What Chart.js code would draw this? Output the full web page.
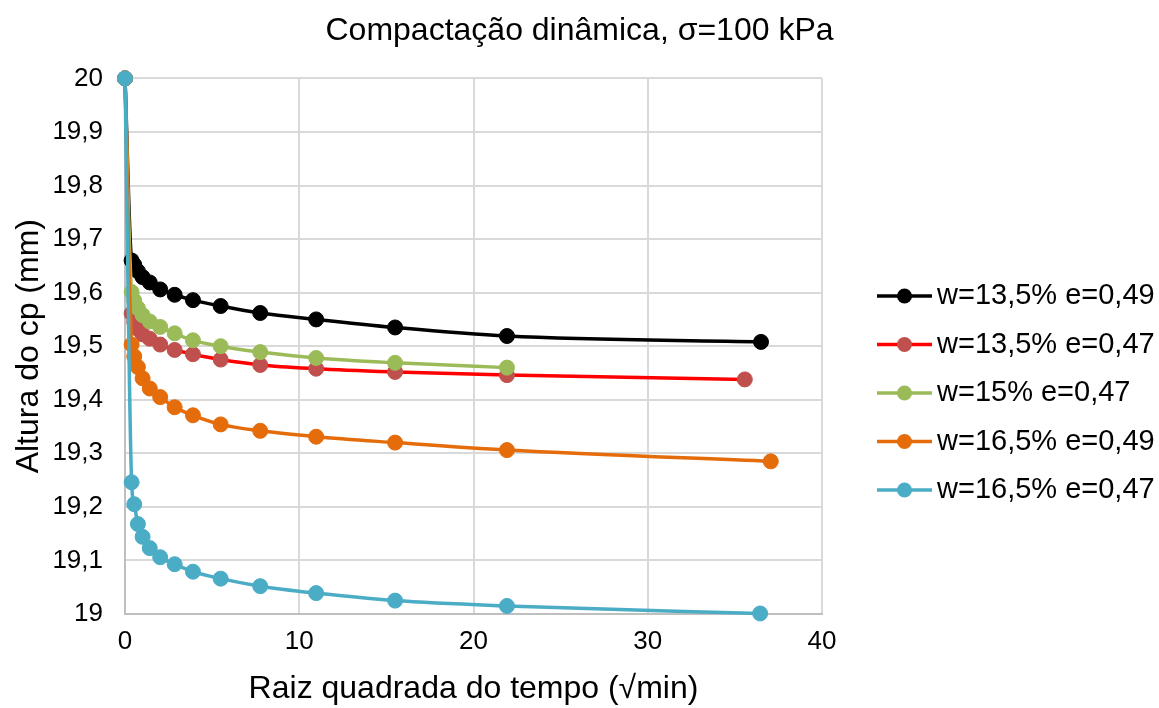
<!DOCTYPE html>
<html>
<head>
<meta charset="utf-8">
<script src="https://cdn.jsdelivr.net/npm/chart.js@4"></script>
<style>
  html, body { margin: 0; padding: 0; background: #fff; }
</style>
</head>
<body>
<canvas id="chart" width="1159" height="708"></canvas>
<script>
// Raiz quadrada do tempo (sqrt min), pontos comuns às séries
const tempoRaiz = [0, 0.38, 0.53, 0.74, 1.01, 1.42, 2.02, 2.85, 3.9, 5.49, 7.76, 10.97, 15.5, 21.92];

// Último ponto de cada série (leitura final)
const tempoFinal = [36.5, 35.57, null, 37.06, 36.45];

// Altura do cp (mm)
const w135e049 = [20, 19.660, 19.652, 19.640, 19.629, 19.619, 19.606, 19.596, 19.586, 19.575, 19.562, 19.550, 19.535, 19.519, 19.508];
const w135e047 = [20, 19.561, 19.545, 19.532, 19.522, 19.514, 19.503, 19.493, 19.485, 19.475, 19.465, 19.458, 19.452, 19.446, 19.438];
const w15e047  = [20, 19.601, 19.585, 19.571, 19.558, 19.546, 19.536, 19.524, 19.511, 19.500, 19.489, 19.478, 19.469, 19.460];
const w165e049 = [20, 19.503, 19.481, 19.461, 19.440, 19.421, 19.405, 19.386, 19.371, 19.354, 19.342, 19.331, 19.320, 19.306, 19.285];
const w165e047 = [20, 19.246, 19.205, 19.168, 19.144, 19.123, 19.106, 19.093, 19.079, 19.066, 19.052, 19.039, 19.025, 19.015, 19.001];

const seriesNames = ['w=13,5% e=0,49', 'w=13,5% e=0,47', 'w=15% e=0,47', 'w=16,5% e=0,49', 'w=16,5% e=0,47'];
const seriesValues = [w135e049, w135e047, w15e047, w165e049, w165e047];
const lineColors = ['#000000', '#FF0000', '#9BBB59', '#E46C0A', '#4BACC6'];
const markerColors = ['#000000', '#C0504D', '#9BBB59', '#E46C0A', '#4BACC6'];

const FONT = '"Liberation Sans", Arial, sans-serif';

function toPoints(values, i) {
  return values.map((v, k) => ({
    x: k < tempoRaiz.length ? tempoRaiz[k] : tempoFinal[i],
    y: v
  }));
}

const datasets = seriesValues.map((values, i) => ({
  label: seriesNames[i],
  data: toPoints(values, i),
  borderColor: lineColors[i],
  backgroundColor: markerColors[i],
  pointBackgroundColor: markerColors[i],
  pointBorderColor: markerColors[i],
  pointRadius: 7.5,
  pointBorderWidth: 1,
  borderWidth: 3.5,
  cubicInterpolationMode: 'monotone',
  clip: false,
  order: seriesValues.length - i
}));

// legenda à direita, desenhada à mão (linha + marcador)
const sideLegend = {
  id: 'sideLegend',
  afterDraw(chart) {
    const ctx = chart.ctx;
    const x0 = 877, len = 55, textX = 937;
    let y = 296;
    ctx.save();
    ctx.font = '29px ' + FONT;
    ctx.textBaseline = 'middle';
    chart.data.datasets.forEach(ds => {
      ctx.strokeStyle = ds.borderColor;
      ctx.lineWidth = 3.5;
      ctx.beginPath();
      ctx.moveTo(x0, y);
      ctx.lineTo(x0 + len, y);
      ctx.stroke();
      ctx.fillStyle = ds.pointBackgroundColor;
      ctx.beginPath();
      ctx.arc(x0 + len / 2, y, 7.5, 0, Math.PI * 2);
      ctx.fill();
      ctx.fillStyle = '#000';
      ctx.fillText(ds.label, textX, y);
      y += 48.5;
    });
    ctx.restore();
  }
};

new Chart(document.getElementById('chart'), {
  type: 'line',
  data: { datasets: datasets },
  plugins: [sideLegend],
  options: {
    responsive: false,
    animation: false,
    layout: { padding: 0 },
    plugins: {
      legend: { display: false },
      tooltip: { enabled: false },
      title: {
        display: true,
        text: 'Compactação dinâmica, σ=100 kPa',
        color: '#000',
        font: { family: FONT, size: 32, weight: 'normal' },
        padding: { top: 12, bottom: 28 }
      }
    },
    scales: {
      x: {
        type: 'linear',
        min: 0,
        max: 40,
        afterFit: s => { s.height = 94; },
        ticks: { stepSize: 10, color: '#000', padding: 12, font: { family: FONT, size: 26 } },
        grid: { color: '#d9d9d9', lineWidth: 2, drawTicks: false },
        border: { color: '#bfbfbf', width: 2 },
        title: {
          display: true,
          text: 'Raiz quadrada do tempo (√min)',
          color: '#000',
          font: { family: FONT, size: 32 },
          padding: { top: 0, bottom: 0 }
        }
      },
      y: {
        min: 19,
        max: 20,
        afterFit: s => { s.width = 125; },
        ticks: {
          stepSize: 0.1,
          color: '#000',
          padding: 22,
          font: { family: FONT, size: 26 },
          callback: v => {
            const s = (Math.round(v * 10) / 10).toFixed(1).replace('.', ',');
            return s.endsWith(',0') ? s.slice(0, -2) : s;
          }
        },
        grid: { color: '#d9d9d9', lineWidth: 2, drawTicks: false },
        border: { color: '#bfbfbf', width: 2 },
        title: {
          display: true,
          text: 'Altura do cp (mm)',
          color: '#000',
          font: { family: FONT, size: 32 },
          padding: { top: 10, bottom: 0 }
        }
      },
      // espaço reservado para a legenda à direita
      legendSpace: {
        position: 'right',
        display: true,
        afterFit: s => { s.width = 337; },
        ticks: { display: false },
        grid: { display: false },
        border: { display: false }
      }
    }
  }
});
</script>
</body>
</html>
